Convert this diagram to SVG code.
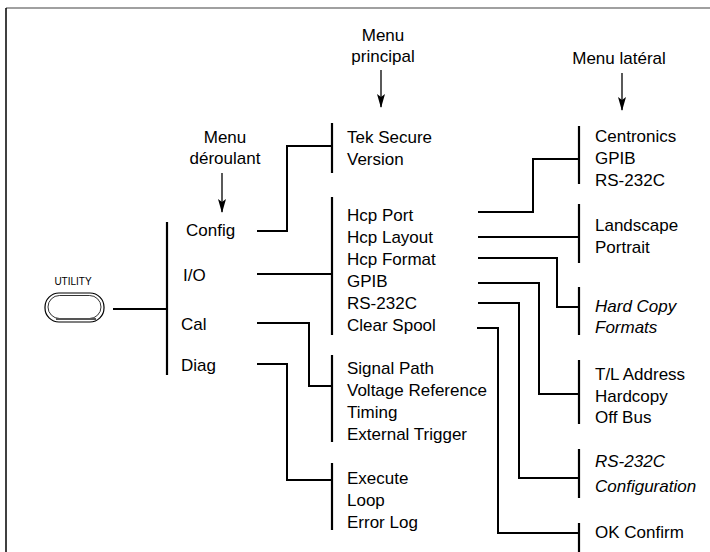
<svg xmlns="http://www.w3.org/2000/svg" width="710" height="552" viewBox="0 0 710 552">
<style>
text{font-family:"Liberation Sans",Arial,sans-serif;font-size:17px;fill:#000}
.it{font-style:italic}
.c{text-anchor:middle}
.ln{fill:none;stroke:#000;stroke-width:2}
.bar{stroke:#000;stroke-width:2.2}
.arr{stroke:#000;stroke-width:1.3;marker-end:url(#ah)}
</style>
<defs>
<marker id="ah" viewBox="0 0 14 8" refX="13" refY="4" markerWidth="14" markerHeight="8" markerUnits="userSpaceOnUse" orient="auto">
<path d="M0 0L14 4L0 8L3 4Z" fill="#000"/>
</marker>
</defs>
<rect x="0" y="0" width="710" height="552" fill="#fff"/>
<g id="frame">
<line x1="6" y1="8" x2="710" y2="8" stroke="#808080" stroke-width="1.5"/>
<line x1="6" y1="8" x2="6" y2="552" stroke="#000" stroke-width="1.5"/>
</g>
<g id="headers">
<text class="c" x="225" y="143">Menu</text>
<text class="c" x="225" y="164">déroulant</text>
<text class="c" x="383" y="41">Menu</text>
<text class="c" x="383" y="62">principal</text>
<text class="c" x="619" y="64">Menu latéral</text>
<line class="arr" x1="222" y1="173" x2="222" y2="212"/>
<line class="arr" x1="381" y1="70" x2="381" y2="107"/>
<line class="arr" x1="622" y1="73" x2="622" y2="110"/>
</g>
<g id="utility">
<text x="73" y="285" class="c" style="font-size:10px">UTILITY</text>
<rect x="45" y="293" width="59" height="29" rx="14" fill="#fff" stroke="#000" stroke-width="1.2"/>
<rect x="48" y="295.5" width="53" height="23" rx="11.5" fill="none" stroke="#000" stroke-width="0.8"/>
<line x1="56" y1="319" x2="96" y2="319" stroke="#555" stroke-width="2"/>
</g>
<g id="dropdown">
<line class="bar" x1="167" y1="222" x2="167" y2="375"/>
<text x="186" y="236">Config</text>
<text x="183" y="281">I/O</text>
<text x="181" y="330">Cal</text>
<text x="181" y="371">Diag</text>
</g>
<g id="main-config">
<line class="bar" x1="332" y1="123" x2="332" y2="173"/>
<text x="347" y="143">Tek Secure</text>
<text x="347" y="165">Version</text>
</g>
<g id="main-io">
<line class="bar" x1="332" y1="197" x2="332" y2="335"/>
<text x="347" y="221">Hcp Port</text>
<text x="347" y="243">Hcp Layout</text>
<text x="347" y="265">Hcp Format</text>
<text x="347" y="287">GPIB</text>
<text x="347" y="309">RS-232C</text>
<text x="347" y="331">Clear Spool</text>
</g>
<g id="main-cal">
<line class="bar" x1="332" y1="355" x2="332" y2="442"/>
<text x="347" y="374">Signal Path</text>
<text x="347" y="396">Voltage Reference</text>
<text x="347" y="418">Timing</text>
<text x="347" y="440">External Trigger</text>
</g>
<g id="main-diag">
<line class="bar" x1="332" y1="463" x2="332" y2="530"/>
<text x="347" y="484">Execute</text>
<text x="347" y="506">Loop</text>
<text x="347" y="528">Error Log</text>
</g>
<g id="side-port">
<line class="bar" x1="579" y1="126" x2="579" y2="184"/>
<text x="595" y="142">Centronics</text>
<text x="595" y="164">GPIB</text>
<text x="595" y="186">RS-232C</text>
</g>
<g id="side-layout">
<line class="bar" x1="579" y1="204" x2="579" y2="263"/>
<text x="595" y="231">Landscape</text>
<text x="595" y="253">Portrait</text>
</g>
<g id="side-format">
<line class="bar" x1="579" y1="287" x2="579" y2="335"/>
<text class="it" x="595" y="312">Hard Copy</text>
<text class="it" x="595" y="333">Formats</text>
</g>
<g id="side-gpib">
<line class="bar" x1="579" y1="360" x2="579" y2="424"/>
<text x="595" y="380">T/L Address</text>
<text x="595" y="402">Hardcopy</text>
<text x="595" y="423">Off Bus</text>
</g>
<g id="side-rs232">
<line class="bar" x1="579" y1="449" x2="579" y2="498"/>
<text class="it" x="595" y="467">RS-232C</text>
<text class="it" x="595" y="492">Configuration</text>
</g>
<g id="side-spool">
<line class="bar" x1="579" y1="523" x2="579" y2="552"/>
<text x="595" y="538">OK Confirm</text>
</g>
<g id="connectors">
<polyline class="ln" points="113,309 167,309"/>
<polyline class="ln" points="257,231 287,231 287,146 332,146"/>
<polyline class="ln" points="257,274 332,274"/>
<polyline class="ln" points="257,323 309,323 309,386 332,386"/>
<polyline class="ln" points="257,364 287,364 287,480 332,480"/>
<polyline class="ln" points="478,212 533,212 533,159 579,159"/>
<polyline class="ln" points="478,237 579,237"/>
<polyline class="ln" points="478,258 557,258 557,307 579,307"/>
<polyline class="ln" points="478,283 539,283 539,394 579,394"/>
<polyline class="ln" points="478,303 519,303 519,478 579,478"/>
<polyline class="ln" points="477,328 498,328 498,533 579,533"/>
</g>
</svg>
